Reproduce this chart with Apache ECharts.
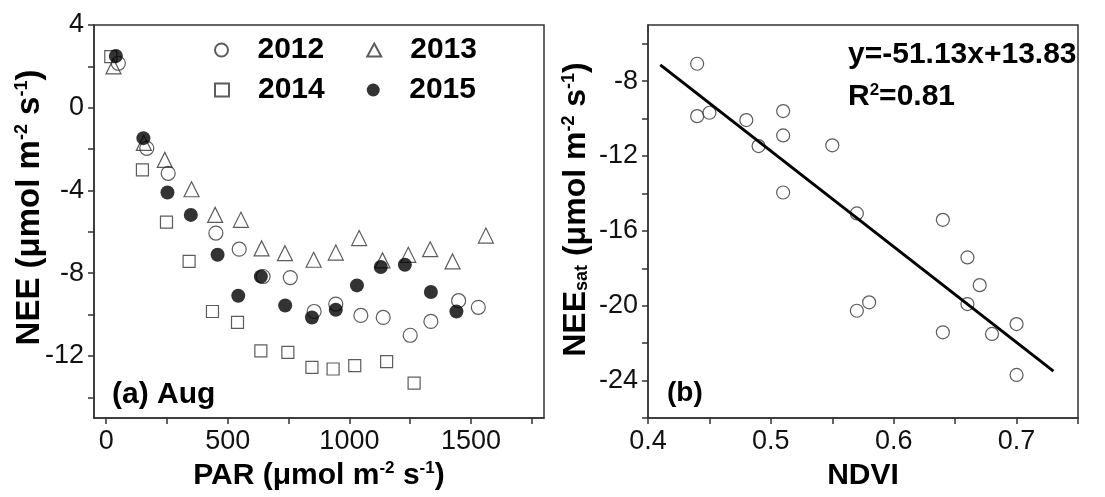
<!DOCTYPE html>
<html>
<head>
<meta charset="utf-8">
<script src="https://cdn.jsdelivr.net/npm/echarts@6.0.0/dist/echarts.min.js"></script>
<style>
  html, body { margin: 0; background: #fff; }
  #chart { width: 1105px; height: 497px; }
</style>
</head>
<body>
<div id="chart"></div>
<script>
const FONT = 'Liberation Sans';

// (a) August light response, PAR vs NEE per year
const par2012 = [50, 167, 255, 451, 547, 645, 757, 855, 944, 1047, 1139, 1250, 1335, 1449, 1530];
const nee2012 = [2.15, -1.96, -3.17, -6.06, -6.84, -8.16, -8.21, -9.85, -9.49, -10.04, -10.14, -11.0, -10.33, -9.33, -9.65];
const par2013 = [30, 155, 241, 351, 448, 554, 639, 735, 853, 944, 1040, 1136, 1242, 1332, 1424, 1561];
const nee2013 = [2.0, -1.7, -2.52, -3.94, -5.18, -5.42, -6.8, -7.03, -7.35, -7.0, -6.3, -7.38, -7.11, -6.84, -7.43, -6.18];
const par2014 = [19, 149, 248, 341, 437, 540, 636, 747, 846, 933, 1022, 1153, 1266];
const nee2014 = [2.47, -3.0, -5.53, -7.43, -9.85, -10.38, -11.75, -11.83, -12.55, -12.63, -12.47, -12.27, -13.31];
const par2015 = [40, 153, 252, 348, 458, 543, 636, 736, 846, 944, 1031, 1129, 1228, 1335, 1440];
const nee2015 = [2.5, -1.47, -4.1, -5.18, -7.11, -9.09, -8.16, -9.56, -10.14, -9.77, -8.59, -7.7, -7.59, -8.91, -9.85];

// (b) NDVI vs NEEsat
const ndvi = [0.44, 0.44, 0.45, 0.48, 0.49, 0.51, 0.51, 0.51, 0.55, 0.57, 0.57, 0.58, 0.64, 0.64, 0.66, 0.66, 0.67, 0.68, 0.70, 0.70];
const neeSat = [-7.07, -9.87, -9.69, -10.08, -11.47, -9.6, -10.9, -13.95, -11.43, -15.07, -20.27, -19.82, -15.41, -21.42, -17.42, -19.91, -18.9, -21.51, -20.98, -23.7];
const fitSlope = -51.13;
const fitIntercept = 13.83;
const fitX = [0.41, 0.73];

// tick positions
const parLabels = [0, 500, 1000, 1500];
const parTicks = [0, 250, 500, 750, 1000, 1250, 1500, 1750];
const neeLabels = [4, 0, -4, -8, -12];
const neeTicks = [4, 2, 0, -2, -4, -6, -8, -10, -12, -14];
const ndviLabels = [0.4, 0.5, 0.6, 0.7];
const ndviTicks = [0.4, 0.45, 0.5, 0.55, 0.6, 0.65, 0.7, 0.75];
const satLabels = [-8, -12, -16, -20, -24];
const satTicks = [-6, -8, -10, -12, -14, -16, -18, -20, -22, -24, -26];

const zip = (xs, ys) => xs.map((x, i) => [x, ys[i]]);

const lineCol = '#333';
function richName(size) {
  const s = Math.round(size * 0.55);
  return {
    b: { fontSize: size, fontWeight: 'bold', fontFamily: FONT, color: '#000', lineHeight: size + 4 },
    sup: { fontSize: s, fontWeight: 'bold', fontFamily: FONT, color: '#000', lineHeight: size + 4, padding: [0, 0, Math.round(size * 0.45), 0] },
    sub: { fontSize: s, fontWeight: 'bold', fontFamily: FONT, color: '#000', lineHeight: size + 4, padding: [Math.round(size * 0.4), 0, 0, 0] }
  };
}
const unit = '{b| (μmol m}{sup|-2}{b| s}{sup|-1}{b|)}';

function axisBase(labels, ticks) {
  return {
    type: 'value',
    axisLine: { show: true, onZero: false, lineStyle: { color: lineCol, width: 1.5 } },
    axisTick: { show: true, length: 6, customValues: ticks, lineStyle: { color: lineCol, width: 1.5 } },
    axisLabel: { customValues: labels, fontSize: 27, fontFamily: FONT, color: '#111', margin: 10,
      formatter: v => String(v) },
    splitLine: { show: false },
    nameLocation: 'middle'
  };
}

const hollow = { color: 'rgba(0,0,0,0)', borderColor: lineCol, borderWidth: 1.2 };
const legendText = { fontSize: 30, fontWeight: 'bold', fontFamily: FONT, color: '#000', padding: [0, 0, 0, 24] };

const chart = echarts.init(document.getElementById('chart'));
chart.setOption({
  animation: false,
  backgroundColor: '#fff',
  grid: [
    { left: 94, top: 25, width: 450, height: 393, show: true, borderColor: lineCol, borderWidth: 1.5 },
    { left: 648, top: 25, right: 27, height: 393, show: true, borderColor: lineCol, borderWidth: 1.5 }
  ],
  xAxis: [
    Object.assign(axisBase(parLabels, parTicks), {
      gridIndex: 0, min: -50, max: 1800, name: '{b|PAR}' + unit, nameGap: 40,
      nameTextStyle: { rich: richName(30) }
    }),
    Object.assign(axisBase(ndviLabels, ndviTicks), {
      gridIndex: 1, min: 0.4, max: 0.75, name: '{b|NDVI}', nameGap: 41,
      nameTextStyle: { rich: richName(30) }
    })
  ],
  yAxis: [
    Object.assign(axisBase(neeLabels, neeTicks), {
      gridIndex: 0, min: -15, max: 4, name: '{b|NEE}' + unit, nameGap: 46, nameMoveOverlap: false,
      nameTextStyle: { rich: richName(33), padding: [0, 0, 0, 28] }
    }),
    Object.assign(axisBase(satLabels, satTicks), {
      gridIndex: 1, min: -26, max: -5, name: '{b|NEE}{sub|sat}' + unit, nameGap: 54,
      nameTextStyle: { rich: richName(32), padding: [0, 0, 0, 24] }
    })
  ],
  legend: [
    { data: ['2012', '2013'], left: 214, top: 35, padding: 0, itemWidth: 14, itemHeight: 13, itemGap: 42, textStyle: legendText },
    { data: ['2014', '2015'], left: 214, top: 75, padding: 0, itemWidth: 14, itemHeight: 13, itemGap: 42, textStyle: legendText }
  ],
  series: [
    { name: '2012', type: 'scatter', xAxisIndex: 0, yAxisIndex: 0, symbol: 'circle', symbolSize: 14,
      itemStyle: hollow, data: zip(par2012, nee2012) },
    { name: '2013', type: 'scatter', xAxisIndex: 0, yAxisIndex: 0, symbol: 'triangle', symbolSize: 15,
      itemStyle: hollow, data: zip(par2013, nee2013) },
    { name: '2014', type: 'scatter', xAxisIndex: 0, yAxisIndex: 0, symbol: 'rect', symbolSize: 12,
      itemStyle: hollow, data: zip(par2014, nee2014) },
    { name: '2015', type: 'scatter', xAxisIndex: 0, yAxisIndex: 0, symbol: 'circle', symbolSize: 14,
      itemStyle: { color: '#000' }, data: zip(par2015, nee2015) },
    { name: 'NEEsat', type: 'scatter', xAxisIndex: 1, yAxisIndex: 1, symbol: 'circle', symbolSize: 13,
      itemStyle: hollow, data: zip(ndvi, neeSat) },
    { name: 'fit', type: 'line', xAxisIndex: 1, yAxisIndex: 1, symbol: 'none',
      lineStyle: { color: '#000', width: 3 },
      data: fitX.map(x => [x, fitSlope * x + fitIntercept]) }
  ],
  graphic: [
    { type: 'text', x: 112, y: 395, style: { text: '(a) Aug', font: 'bold 30px ' + FONT, fill: '#000', verticalAlign: 'middle' } },
    { type: 'text', x: 667, y: 393, style: { text: '(b)', font: 'bold 28px ' + FONT, fill: '#000', verticalAlign: 'middle' } },
    { type: 'text', x: 848, y: 55, style: { text: 'y=-51.13x+13.83', font: 'bold 30px ' + FONT, fill: '#000', verticalAlign: 'middle' } },
    { type: 'text', x: 848, y: 97, style: {
        text: '{b|R}{s|2}{b|=0.81}', verticalAlign: 'middle',
        rich: {
          b: { font: 'bold 30px ' + FONT, fill: '#000', lineHeight: 34 },
          s: { font: 'bold 17px ' + FONT, fill: '#000', lineHeight: 34, padding: [0, 0, 14, 0] }
        }
      } }
  ]
});
</script>
</body>
</html>
